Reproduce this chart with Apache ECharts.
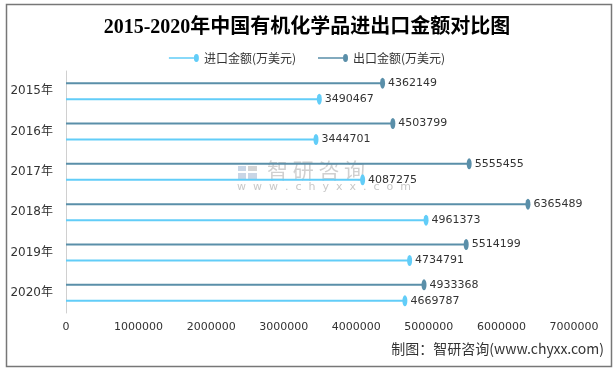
<!DOCTYPE html>
<html><head><meta charset="utf-8">
<script src="https://cdn.jsdelivr.net/npm/echarts@6/dist/echarts.min.js"></script>
<style>html,body{margin:0;padding:0;background:#fff}#c{width:614px;height:370px}</style>
</head><body><div id="c"></div>
<script>
const categories = ['2015年','2016年','2017年','2018年','2019年','2020年'];
const importValues = [3490467, 3444701, 4087275, 4961373, 4734791, 4669787];
const exportValues = [4362149, 4503799, 5555455, 6365489, 5514199, 4933368];
const xTicks = [0, 1000000, 2000000, 3000000, 4000000, 5000000, 6000000, 7000000];
const importName = '进口金额(万美元)';
const exportName = '出口金额(万美元)';
const cImp = '#62cdf8';
const cExp = '#5a8fa9';
const font = "'DejaVu Sans','Noto Sans CJK SC',sans-serif";
const legendIcon = 'path://M0,5.2L25,5.2L25,6.8L0,6.8Z M25,6 A2.5,4 0 1 1 30,6 A2.5,4 0 1 1 25,6 Z';

const chart = echarts.init(document.getElementById('c'), null, {renderer:'canvas'});
function pairs(vals){ return vals.map((v,i)=>[v, categories[i]]); }
const scatterLabel = {show:true, position:'right', distance:3, color:'#333', fontSize:11, fontFamily:font,
  formatter: p => String(p.value[0])};
chart.setOption({
  animation:false,
  title:{text:'2015-2020年中国有机化学品进出口金额对比图', left:'center', top:13,
    textStyle:{fontFamily:"'Liberation Serif','Noto Sans CJK SC',serif", fontWeight:'bold', fontSize:20, color:'#000'}},
  legend:{top:47, left:'center', itemWidth:30, itemHeight:12, itemGap:22,
    textStyle:{fontSize:12, color:'#333', fontFamily:"'Noto Sans CJK SC',sans-serif"},
    data:[{name:importName, icon:legendIcon, itemStyle:{color:cImp}},{name:exportName, icon:legendIcon, itemStyle:{color:cExp}}]},
  grid:{left:66, right:40, top:71, bottom:57, containLabel:false},
  xAxis:{type:'value', min:xTicks[0], max:xTicks[xTicks.length-1], interval:1000000,
    axisLine:{show:false}, axisTick:{show:false}, splitLine:{show:false},
    axisLabel:{color:'#333', fontSize:11, fontFamily:font, margin:9, formatter: v => String(v)}},
  yAxis:{type:'category', data:categories, inverse:true,
    axisLine:{show:true, lineStyle:{color:'#d0d0d0'}}, axisTick:{show:false},
    axisLabel:{color:'#333', fontSize:12, fontFamily:font, margin:13}},
  graphic:[
    {type:'rect', left:4, top:2, shape:{width:605, height:362}, style:{fill:'none', stroke:'#777', lineWidth:1.5}, z:100},
    {type:'group', left:238, top:166, z:0, children:[
      {type:'rect', shape:{x:0,y:0,width:8,height:5}, style:{fill:'#c9d6e6'}},
      {type:'rect', shape:{x:0,y:7,width:8,height:6}, style:{fill:'#c9d6e6'}},
      {type:'rect', shape:{x:10,y:0,width:9,height:5}, style:{fill:'#d4d4d4'}},
      {type:'rect', shape:{x:10,y:7,width:9,height:6}, style:{fill:'#c9d6e6'}}
    ]},
    {type:'text', left:267, top:160, z:0, style:{text:'智 研 咨 询', fill:'#d0d0d0', fontSize:21, fontFamily:"'Noto Sans CJK SC',sans-serif"}},
    {type:'text', left:237, top:182, z:0, style:{text:'w  w  w  .  c  h  y  x  x  .  c  o  m', fill:'#c8c8c8', fontSize:11, fontFamily:font}},
    {type:'text', right:10, top:342, style:{text:'制图：智研咨询(www.chyxx.com)', fill:'#333', fontSize:14, fontFamily:"'Noto Sans CJK SC',sans-serif"}}
  ],
  series:[
    {name:exportName, type:'bar', data:exportValues, barWidth:2, barGap:'700%', itemStyle:{color:cExp}, z:2},
    {name:importName, type:'bar', data:importValues, barWidth:2, barGap:'700%', itemStyle:{color:cImp}, z:2},
    {name:exportName, type:'scatter', data:pairs(exportValues), symbol:'circle', symbolSize:[5,11], symbolOffset:[0,-8],
      itemStyle:{color:cExp, opacity:1}, label:scatterLabel, z:3},
    {name:importName, type:'scatter', data:pairs(importValues), symbol:'circle', symbolSize:[5,11], symbolOffset:[0,8],
      itemStyle:{color:cImp, opacity:1}, label:scatterLabel, z:3}
  ]
});
</script></body></html>
